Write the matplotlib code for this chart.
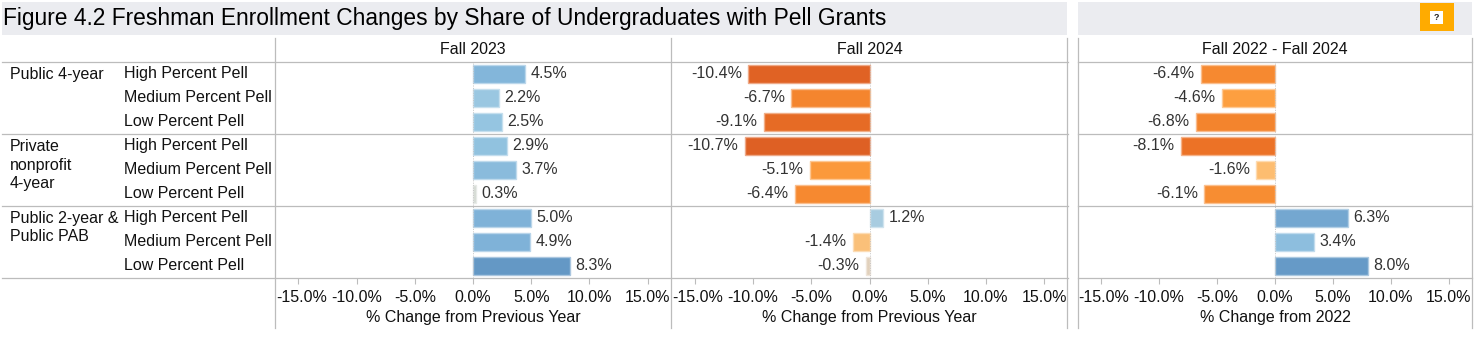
#!/usr/bin/env python3
import matplotlib
matplotlib.use('Agg')
import matplotlib.pyplot as plt
from matplotlib.colors import LinearSegmentedColormap, to_rgb
from matplotlib.lines import Line2D
from matplotlib.patches import Rectangle
from matplotlib.transforms import ScaledTranslation

plt.rcParams['font.family'] = ['Liberation Sans', 'DejaVu Sans']

# ------------------------------------------------------------------------------
# Data
# ------------------------------------------------------------------------------
sectors = ['Public 4-year', 'Private\nnonprofit\n4-year',
           'Public 2-year &\nPublic PAB']
pell_groups = ['High Percent Pell', 'Medium Percent Pell', 'Low Percent Pell']

fall_2023 = [4.5, 2.2, 2.5, 2.9, 3.7, 0.3, 5.0, 4.9, 8.3]
fall_2024 = [-10.4, -6.7, -9.1, -10.7, -5.1, -6.4, 1.2, -1.4, -0.3]
fall_22_24 = [-6.4, -4.6, -6.8, -8.1, -1.6, -6.1, 6.3, 3.4, 8.0]

panel_titles = ['Fall 2023', 'Fall 2024', 'Fall 2022 - Fall 2024']
panel_xlabels = ['% Change from Previous Year', '% Change from Previous Year',
                 '% Change from 2022']
x_ticks = [-15, -10, -5, 0, 5, 10, 15]

title = 'Figure 4.2 Freshman Enrollment Changes by Share of Undergraduates with Pell Grants'

# ------------------------------------------------------------------------------
# Layout, all in pixels of the 1476x355 picture
# ------------------------------------------------------------------------------
W, H = 1476, 355
TOP, BOTTOM = 62, 277.5
GRID = '#bcbcbc'
TXT = '#111111'
LABEL = '#333333'
FS = 11.5

fig = plt.figure(figsize=(W/100, H/100), dpi=100)


def fx(x):
    return x/W


def fy(y):
    return 1 - y/H


def vline(x, y0, y1, lw=0.9, col=GRID):
    fig.add_artist(Line2D([fx(x), fx(x)], [fy(y0), fy(y1)], color=col, lw=lw,
                          zorder=5))


def hline(x0, x1, y, lw=0.9, col=GRID):
    fig.add_artist(Line2D([fx(x0), fx(x1)], [fy(y), fy(y)], color=col, lw=lw,
                          zorder=5))


# Diverging colours, anchored on the value of the bar
anchors = [(-10.7, '#de6024'), (-8.1, '#ec7226'), (-6.4, '#f68a30'),
           (-4.6, '#fd9f40'), (-1.5, '#fdbe72'), (-0.3, '#e2cfb8'),
           (0.0, '#dcdcd8'), (0.3, '#d5d9d3'), (1.2, '#a8cce0'),
           (2.5, '#95c5e1'), (5.0, '#7fb2d8'), (8.3, '#6498c5')]
lo, hi = anchors[0][0], anchors[-1][0]
cmap = LinearSegmentedColormap.from_list(
    'pell', [((v-lo)/(hi-lo), c) for v, c in anchors])


def bar_colors(v):
    c = to_rgb(cmap((v-lo)/(hi-lo)))
    edge = tuple(0.55*a + 0.45 for a in c)
    return c, edge


# ------------------------------------------------------------------------------
# Title band
# ------------------------------------------------------------------------------
fig.add_artist(Rectangle((fx(2), fy(35)), fx(1065), 33/H, color='#ebecf0', lw=0))
fig.add_artist(Rectangle((fx(1078), fy(35)), fx(394), 33/H, color='#ebecf0', lw=0))
fig.add_artist(Rectangle((fx(1420), fy(31)), fx(34), 28/H, color='#ffab00', lw=0,
                         zorder=3))
fig.add_artist(Rectangle((fx(1430), fy(24)), fx(13), 13/H, color='white', lw=0,
                         zorder=4))
fig.text(fx(1436.5), fy(17.5), '?', fontsize=6.5, fontweight='bold', color='#222222',
         ha='center', va='center', zorder=6)
fig.text(fx(3), fy(18.5), title, fontsize=16.38, color='#000000', ha='left',
         va='center')

# ------------------------------------------------------------------------------
# Panels
# ------------------------------------------------------------------------------
panels = [(275, 671, fall_2023), (671.5, 1067.5, fall_2024),
          (1078, 1472, fall_22_24)]

for i, (x0, x1, values) in enumerate(panels):
    ax = fig.add_axes([fx(x0), fy(BOTTOM), (x1-x0)/W, (BOTTOM-TOP)/H])
    ax.set_xlim(-17, 17)
    ax.set_ylim(9, 0)
    ax.patch.set_alpha(0)
    for s in ax.spines.values():
        s.set_visible(False)

    for j, v in enumerate(values):
        face, edge = bar_colors(v)
        ax.barh(j+0.5, v, height=0.75, color=face, edgecolor=edge, linewidth=1.0,
                zorder=2)
        label = f'{v:.1f}%'
        if v >= 0:
            ax.annotate(label, (v, j+0.5), xytext=(3.8, 0),
                        textcoords='offset points', ha='left', va='center',
                        fontsize=FS, color=LABEL)
        else:
            ax.annotate(label, (v, j+0.5), xytext=(-4.6, 0),
                        textcoords='offset points', ha='right', va='center',
                        fontsize=FS, color=LABEL)

    ax.axvline(0, color='#c4c4c4', lw=0.7, ls=(0, (1, 1.5)), zorder=3)

    ax.set_xticks(x_ticks)
    ax.set_xticklabels([f'{t:.1f}%' for t in x_ticks], fontsize=FS, color=TXT)
    ax.tick_params(axis='x', length=4, width=0.8, color=GRID, pad=5.3)
    ax.set_yticks([])
    ax.set_xlabel(panel_xlabels[i], fontsize=FS, color=TXT, labelpad=3)

    # leftmost tick label sits a little inside the pane
    first = ax.get_xticklabels()[0]
    first.set_transform(first.get_transform()
                        + ScaledTranslation(3/100, 0, fig.dpi_scale_trans))

    fig.text(fx((x0+x1)/2), fy(49.5), panel_titles[i], fontsize=FS, color=TXT,
             ha='center', va='center')

# ------------------------------------------------------------------------------
# Row headers
# ------------------------------------------------------------------------------
row_h = (BOTTOM-TOP)/9
for k, sector in enumerate(sectors):
    fig.text(fx(9.5), fy(TOP + 3*k*row_h + 5.5), sector, fontsize=FS, color=TXT,
             ha='left', va='top', linespacing=1.27)
    for m, group in enumerate(pell_groups):
        fig.text(fx(124.5), fy(TOP + (3*k+m+0.5)*row_h), group, fontsize=FS,
                 color=TXT, ha='left', va='center')

# ------------------------------------------------------------------------------
# Rules
# ------------------------------------------------------------------------------
for y in [62, 134.5, 205.5, 277.5]:
    hline(2, 1068, y)
    hline(1078, 1472, y)

vline(275, 38, 328)
vline(671, 38, 328)
vline(1067, 38, 328)
vline(1077.5, 38, 328)
vline(1471.5, 38, 328)

plt.savefig('out.png', dpi=100)
